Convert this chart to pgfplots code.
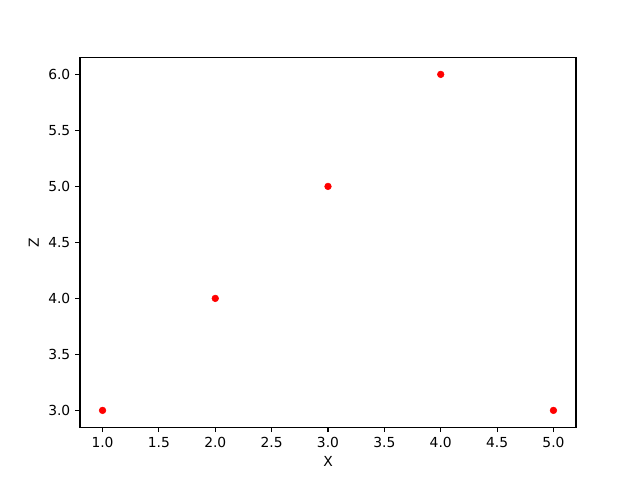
\documentclass[border=0pt]{standalone}
\usepackage{pgfplots}
\pgfplotsset{compat=1.18}
\usepackage{fontspec}
\setmainfont{DejaVu Sans}
\setsansfont{DejaVu Sans}
\begin{document}
\begin{tikzpicture}
\fill[white] (0,0) rectangle (460.8bp,345.6bp);
\begin{axis}[
  at={(57.6bp,38.016bp)}, anchor=south west,
  scale only axis,
  width=357.12bp, height=266.11bp,
  xmin=0.8, xmax=5.2, ymin=2.85, ymax=6.15,
  xtick={1,1.5,...,5}, ytick={3,3.5,...,6},
  xticklabel style={/pgf/number format/.cd,fixed,fixed zerofill,precision=1},
  yticklabel style={/pgf/number format/.cd,fixed,fixed zerofill,precision=1},
  /pgf/number format/assume math mode=true,
  tick align=outside, major tick length=3.5pt,
  tick style={black, line width=0.8pt},
  xtick pos=bottom, ytick pos=left,
  axis line style={line width=0.8pt},
  tick label style={font=\fontsize{10}{12}\selectfont},
  label style={font=\fontsize{10}{12}\selectfont},
  xlabel={X}, ylabel={Z},
]
\addplot[only marks, mark=*, mark size=2.4pt, draw=red, fill=red] coordinates {
  (1,3) (2,4) (3,5) (4,6) (5,3)
};
\end{axis}
\end{tikzpicture}
\end{document}
